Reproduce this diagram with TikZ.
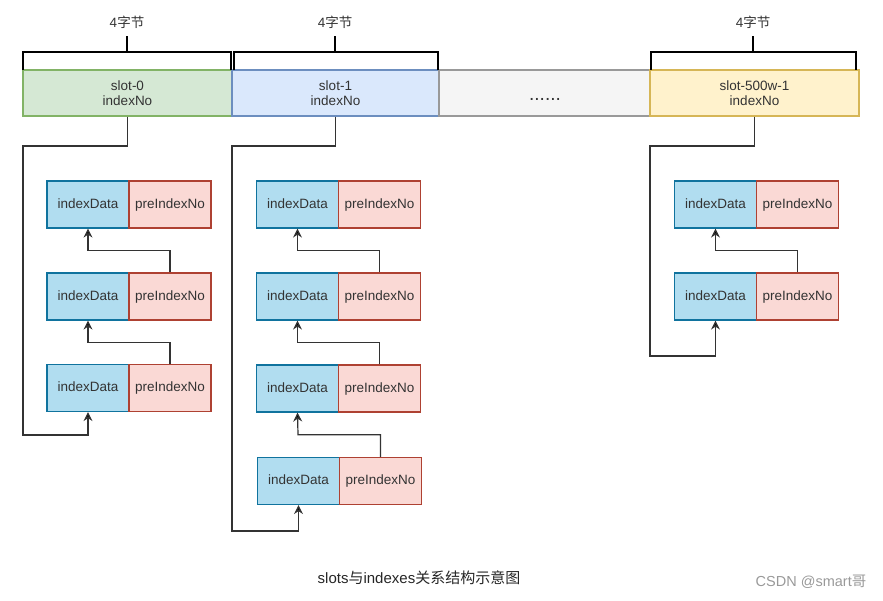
\documentclass[tikz,border=0pt]{standalone}
\usepackage{fontspec}
\setmainfont{Liberation Sans}
\newfontfamily\cjk{Noto Sans CJK SC}
\usetikzlibrary{arrows.meta,calc}
\definecolor{txtgray}{HTML}{333333}
\definecolor{greenfill}{HTML}{D5E8D4}
\definecolor{greenline}{HTML}{82B366}
\definecolor{bluefill}{HTML}{DAE8FC}
\definecolor{blueline}{HTML}{6C8EBF}
\definecolor{grayfill}{HTML}{F5F5F5}
\definecolor{grayline}{HTML}{999999}
\definecolor{yellowfill}{HTML}{FFF2CC}
\definecolor{yellowline}{HTML}{D6B656}
\definecolor{datafill}{HTML}{B1DDF0}
\definecolor{dataline}{HTML}{10739E}
\definecolor{prefill}{HTML}{FAD9D5}
\definecolor{preline}{HTML}{AE4132}
\tikzset{
	>={Stealth[length=9pt,width=9pt,inset=3pt,fill=black]},
	slotbox/.style={draw, line width=1.2pt, minimum height=46pt, inner sep=0pt, align=center,
		text=txtgray, font=\fontsize{13.5}{15.5}\selectfont},
	databox/.style={draw=dataline, fill=datafill, line width=1.2pt, minimum width=82pt, minimum height=47pt,
		inner sep=0pt, text height=10pt, text depth=3pt, text=txtgray, font=\fontsize{13.5}{16}\selectfont},
	prebox/.style={databox, draw=preline, fill=prefill},
	bracket/.style={line width=2pt, black},
	link/.style={draw=txtgray, line width=1.2pt},
	size/.style={text=txtgray, font=\fontsize{13.5}{16}\selectfont, inner sep=0pt}
}
\begin{document}
\begin{tikzpicture}[x=1pt,y=-1pt]
			\useasboundingbox (0,0) rectangle (883,600);
			% slots
			\node[slotbox, draw=greenline, fill=greenfill, minimum width=209pt] (s0) at (127.5,93) {slot-0\\indexNo};
			\node[slotbox, draw=blueline, fill=bluefill, minimum width=207pt] (s1) at (335.5,93) {slot-1\\indexNo};
			\node[slotbox, draw=grayline, fill=grayfill, minimum width=211pt] (sdots) at (544.5,93) {};
			\node[text=txtgray, font=\fontsize{19}{20}\selectfont, inner sep=0pt, anchor=base] (dots) at (545,100) {......};
			\node[slotbox, draw=yellowline, fill=yellowfill, minimum width=209pt] (sn) at (754.5,93) {slot-500w-1\\indexNo};
			% brackets
			\draw [bracket] (23,70) -- (23,52) -- (230.5,52) -- (230.5,70);
			\draw [bracket] (233.5,70) -- (233.5,52) -- (438,52) -- (438,70);
			\draw [bracket] (651,70) -- (651,52) -- (856,52) -- (856,70);
			\node[size] (b0) at (127,22) {4{\cjk 字节}};
			\node[size] (b1) at (335,22) {4{\cjk 字节}};
			\node[size] (bn) at (753,22) {4{\cjk 字节}};
			\draw [bracket] (127,52) -- (b0.south |- 0,36);
			\draw [bracket] (335,52) -- (b1.south |- 0,36);
			\draw [bracket] (753,52) -- (bn.south |- 0,36);
			% slot-0 chain
			\node[databox] (d01) at (88,204.5) {indexData};
			\node[prebox] (p01) at (170,204.5) {preIndexNo};
			\node[databox] (d02) at (88,296.5) {indexData};
			\node[prebox] (p02) at (170,296.5) {preIndexNo};
			\node[databox] (d03) at (88,388) {indexData};
			\node[prebox] (p03) at (170,388) {preIndexNo};
			% slot-1 chain
			\node[databox] (d11) at (297.5,204.5) {indexData};
			\node[prebox] (p11) at (379.5,204.5) {preIndexNo};
			\node[databox] (d12) at (297.5,296.5) {indexData};
			\node[prebox] (p12) at (379.5,296.5) {preIndexNo};
			\node[databox] (d13) at (297.5,388.5) {indexData};
			\node[prebox] (p13) at (379.5,388.5) {preIndexNo};
			\node[databox] (d14) at (298.5,481) {indexData};
			\node[prebox] (p14) at (380.5,481) {preIndexNo};
			% slot-500w-1 chain
			\node[databox] (dn1) at (715.5,204.5) {indexData};
			\node[prebox] (pn1) at (797.5,204.5) {preIndexNo};
			\node[databox] (dn2) at (715.5,296.5) {indexData};
			\node[prebox] (pn2) at (797.5,296.5) {preIndexNo};
			% links between entries
			\draw [link, ->] (p02.north) |- ($(d01.south)!0.5!(d02.north)$) -- (d01.south);
			\draw [link, ->] (p03.north) |- ($(d02.south)!0.5!(d03.north)$) -- (d02.south);
			\draw [link, ->] (p12.north) |- ($(d11.south)!0.5!(d12.north)$) -- (d11.south);
			\draw [link, ->] (p13.north) |- ($(d12.south)!0.5!(d13.north)$) -- (d12.south);
			\draw [link, ->] (p14.north) |- ($(d13.south)!0.5!(d14.north)$) -- (d13.south);
			\draw [link, ->] (pn2.north) |- ($(dn1.south)!0.5!(dn2.north)$) -- (dn1.south);
			% links from slots
			\coordinate (c0a) at (23,146);
			\coordinate (c0b) at (23,435);
			\coordinate (c1a) at (232,146);
			\coordinate (c1b) at (232,531);
			\coordinate (cna) at (650,146);
			\coordinate (cnb) at (650,356);
			\draw [link, ->] (s0.south) |- (c0a) -- (c0b) -| (d03.south);
			\draw [link, ->] (s1.south) |- (c1a) -- (c1b) -| (d14.south);
			\draw [link, ->] (sn.south) |- (cna) -- (cnb) -| (dn2.south);
			% caption
			\node[inner sep=0pt, text=black!85, font=\fontsize{15}{17}\selectfont] (cap) at (419,578) {slots{\cjk 与}indexes{\cjk 关系结构示意图}};
			\node[inner sep=0pt, text=black!40, font=\fontsize{14.5}{16}\selectfont] (mark) at (811,582) {CSDN @smart{\cjk 哥}};
		\end{tikzpicture}
\end{document}
